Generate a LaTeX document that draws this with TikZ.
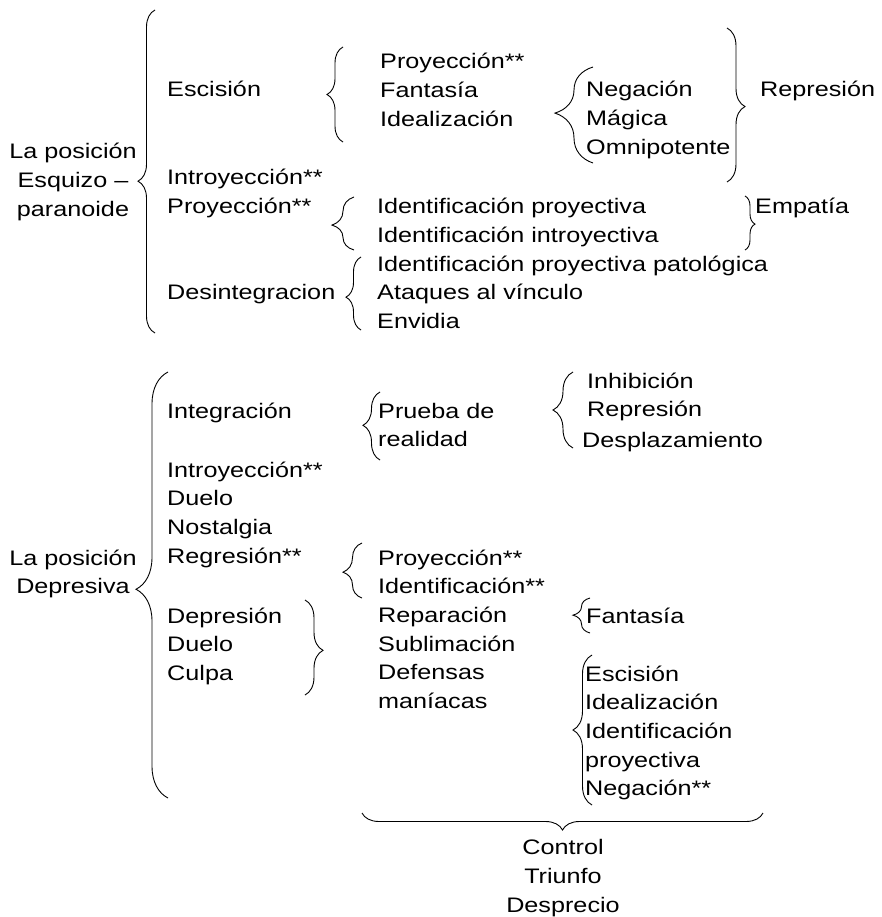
\documentclass[tikz,border=0pt]{standalone}
\usepackage{fontspec}
\setmainfont{Liberation Sans}[FakeStretch=1.2]
\usepackage{tikz}
\usetikzlibrary{decorations.pathreplacing}
\tikzset{
    txt/.style={
        anchor=base west,
        inner sep=0pt,
        align=left,
        font=\fontsize{21}{28.7}\selectfont
    },
    ctxt/.style={
        txt,
        anchor=base,
        align=center
    },
    curly/.style 2 args={
        decorate,
        decoration={brace, amplitude=#1, aspect=#2},
        line width=0.9pt
    }
}

\begin{document}
\begin{tikzpicture}[x=1pt, y=-1pt]
\useasboundingbox (0,0) rectangle (881,917);

% La posicion Esquizo-paranoide (node base = last line)
\node[ctxt] (esquizo) at (73,216.4) {La posición\\Esquizo –\\paranoide};
\node[txt] (escision) at (167,97) {Escisión};
\node[txt] (proyfant) at (380,126.4) {Proyección**\\Fantasía\\Idealización};
\node[txt] (negacion) at (586,154.4) {Negación\\Mágica\\Omnipotente};
\node[txt] (represion) at (760,97) {Represión};
\node[txt] (introproy) at (167,213.7) {Introyección**\\Proyección**};
\node[txt] (identif) at (377,242.7) {Identificación proyectiva\\Identificación introyectiva};
\node[txt] (empatia) at (755,214) {Empatía};
\node[txt] (desint) at (167,299) {Desintegracion};
\node[txt] (patol) at (377,328.4) {Identificación proyectiva patológica\\Ataques al vínculo\\Envidia};

% La posicion Depresiva
\node[ctxt] (depresiva) at (73,593.7) {La posición\\Depresiva};
\node[txt] (integracion) at (167,418) {Integración};
\node[txt] (introduelo) at (167,563.1) {Introyección**\\Duelo\\Nostalgia\\Regresión**};
\node[txt] (prueba) at (378,446.7) {Prueba de\\realidad};
\node[txt] (inhib) at (587,416.7) {Inhibición\\Represión};
\node[txt] (desplaz) at (582,447) {Desplazamiento};
\node[txt] (reparacion) at (378,708.5) {Proyección**\\Identificación**\\Reparación\\Sublimación\\Defensas\\maníacas};
\node[txt] (depresion) at (167,680.4) {Depresión\\Duelo\\Culpa};
\node[txt] (fantasia) at (586,623) {Fantasía};
\node[txt] (maniacas) at (585,795.8) {Escisión\\Idealización\\Identificación\\proyectiva\\Negación**};
\node[ctxt] (control) at (563,912) {Control\\Triunfo\\Desprecio};

% brace ends
\coordinate (esq-t) at (155,10);    \coordinate (esq-b) at (155,333);
\coordinate (esc-t) at (343,47);    \coordinate (esc-b) at (343,142);
\coordinate (neg-t) at (593,67);    \coordinate (neg-b) at (593,163);
\coordinate (rep-t) at (727,28);    \coordinate (rep-b) at (727,182);
\coordinate (ide-t) at (354,197);   \coordinate (ide-b) at (354,250);
\coordinate (emp-t) at (745,196);   \coordinate (emp-b) at (745,250);
\coordinate (des-t) at (361,257);   \coordinate (des-b) at (361,330);
\coordinate (dep-t) at (168,372);   \coordinate (dep-b) at (168,798);
\coordinate (pru-t) at (380,392);   \coordinate (pru-b) at (380,460);
\coordinate (inh-t) at (573,372);   \coordinate (inh-b) at (573,448);
\coordinate (pro-t) at (362,543);   \coordinate (pro-b) at (362,598);
\coordinate (cul-t) at (305,600);   \coordinate (cul-b) at (305,695);
\coordinate (fan-t) at (590,598);   \coordinate (fan-b) at (590,633);
\coordinate (man-t) at (592,655);   \coordinate (man-b) at (592,805);
\coordinate (ctl-l) at (362,813);   \coordinate (ctl-r) at (763,813);

% braces
\draw[curly={17pt}{0.47}] (esq-b) -- (esq-t);
\draw[curly={16pt}{0.5}] (esc-b) -- (esc-t);
\draw[curly={38pt}{0.52}] (neg-b) -- (neg-t);
\draw[curly={18pt}{0.51}] (rep-t) -- (rep-b);
\draw[curly={22pt}{0.47}] (ide-b) -- (ide-t);
\draw[curly={10pt}{0.52}] (emp-t) -- (emp-b);
\draw[curly={15pt}{0.45}] (des-b) -- (des-t);
\draw[curly={32pt}{0.49}] (dep-b) -- (dep-t);
\draw[curly={17pt}{0.51}] (pru-b) -- (pru-t);
\draw[curly={20pt}{0.5}] (inh-b) -- (inh-t);
\draw[curly={19pt}{0.47}] (pro-b) -- (pro-t);
\draw[curly={18pt}{0.53}] (cul-t) -- (cul-b);
\draw[curly={17pt}{0.51}] (fan-b) -- (fan-t);
\draw[curly={19pt}{0.5}] (man-b) -- (man-t);
\draw[curly={17pt}{0.5}] (ctl-r) -- (ctl-l);
\end{tikzpicture}
\end{document}
